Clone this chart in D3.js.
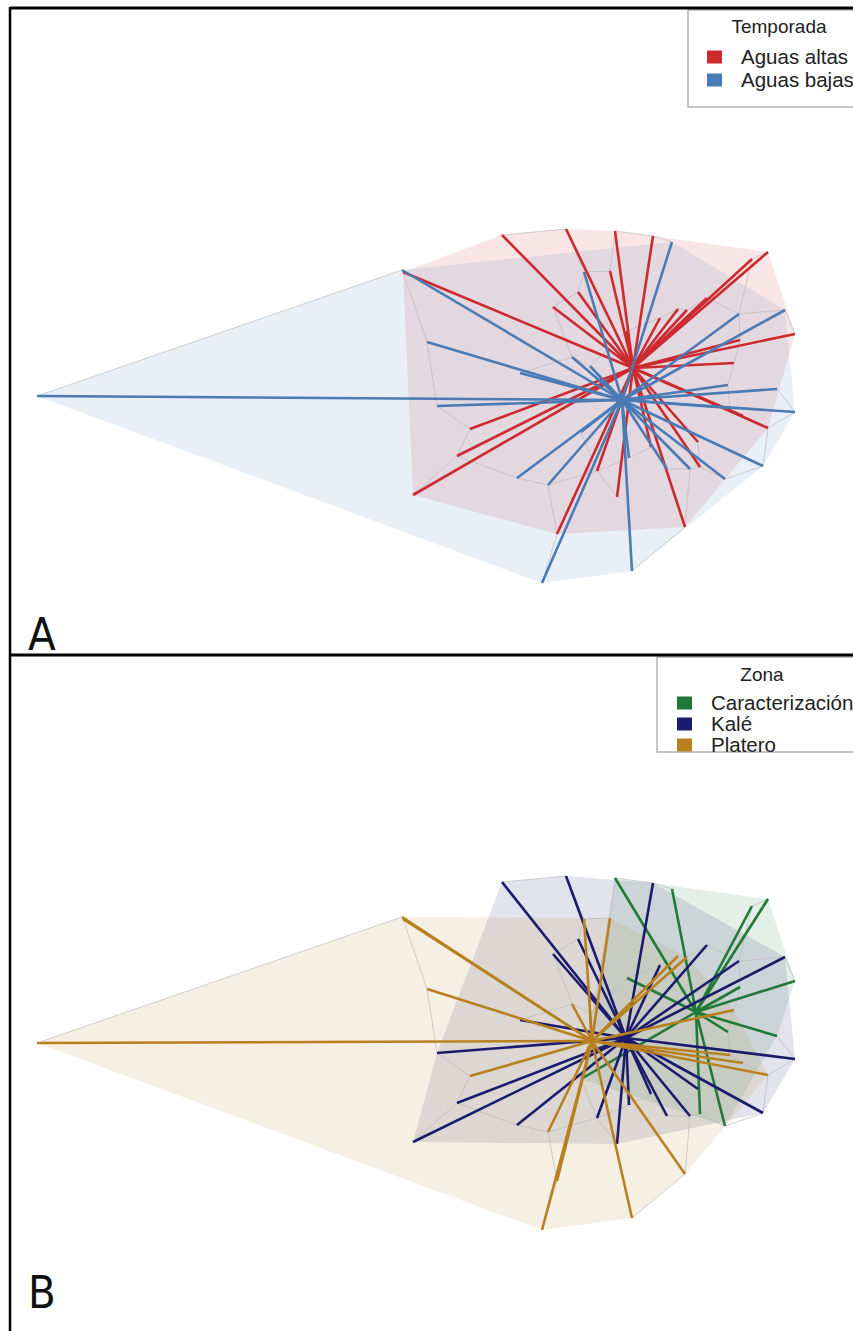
<!DOCTYPE html>
<html>
<head>
<meta charset="utf-8">
<script src="https://cdn.jsdelivr.net/npm/d3@7"></script>
<style>
  body { margin: 0; background: #fff; }
  svg { display: block; }
</style>
</head>
<body>
<script>
// ---- Groupings ----
const seasons = ["Aguas altas", "Aguas bajas"];
const seasonColors = ["#CC2A2E", "#4A7BB5"];
const zones = ["Caracterización", "Kalé", "Platero"];
const zoneColors = ["#1F7A38", "#1B1B6E", "#B8801F"];

// ---- NMDS site scores (one entry per sample) ----
const nmds1 = [
  -0.472, -0.216, -0.020, 0.132, 0.592, 0.528, -0.868, -0.168, -0.040, -0.268,
   0.232,  0.160,  0.268, 0.700, 0.456, -0.600, -0.652, -0.828, -0.252, -0.092,
  -0.012,  0.260,  0.320, 0.592, 0.312,  0.124,  0.028,  0.480,  0.348,  0.492,
  -0.872,  0.208, -0.772, 0.660, 0.476, -0.144, -0.192, -0.120,  0.628,  0.432,
  -0.400, -0.732, -2.332, -0.412, -0.288, -0.312, 0.048, 0.280, 0.420, 0.572,
   0.700,  0.036, -0.156, 0.188, 0.440
];
const nmds2 = [
   0.660,  0.684,  0.676, 0.656, 0.592, 0.564, 0.512, 0.432, 0.516, 0.372,
   0.364,  0.328,  0.360, 0.264, 0.148, -0.116, -0.224, -0.380, -0.536, -0.284,
  -0.388, -0.508, -0.268, -0.112, -0.168, -0.188, 0.276, 0.240, 0.408, -0.064,
   0.520,  0.632,  0.232, 0.360, 0.344, 0.512, 0.172, 0.136, 0.044, 0.060,
   0.108, -0.024,  0.016, -0.312, -0.340, -0.732, -0.684, -0.276, -0.316, -0.264,
  -0.048, -0.232, -0.128, -0.276, -0.032
];
// season of each sample: 0 = Aguas altas, 1 = Aguas bajas
const seasonOf = [
  0,0,0,0,0,0,0,0,0,0, 0,0,0,0,0,0,0,0,0,0, 0,0,0,0,0,0,0,0,0,0,
  1,1,1,1,1,1,1,1,1,1, 1,1,1,1,1,1,1,1,1,1, 1,1,1,1,1
];
// zone of each sample: 0 = Caracterización, 1 = Kalé, 2 = Platero
const zoneOf = [
  1,1,0,1,0,0,2,1,2,1, 2,1,2,0,2,2,1,1,2,1, 1,2,0,2,1,1,0,0,1,2,
  2,0,2,1,1,2,2,2,0,0, 1,1,2,1,2,2,2,1,0,1, 1,1,0,1,2
];

// ---- Group centres (spatial medians) ----
const seasonCentreX = [0.052, 0.008];
const seasonCentreY = [0.128, 0.000];
const zoneCentreX = [0.304, 0.024, -0.112];
const zoneCentreY = [0.140, 0.036, 0.024];

// ---- Canvas ----
const W = 853, H = 1331;
const svg = d3.select("body").append("svg")
  .attr("width", W).attr("height", H)
  .attr("viewBox", `0 0 ${W} ${H}`);

const x = d3.scaleLinear().domain([-2.4, 0.9]).range([20, 845]);
const yA = d3.scaleLinear().domain([-0.9, 1]).range([625, 150]);
const yB = d3.scaleLinear().domain([-0.9, 1]).range([1272, 797]);

// minimum spanning tree over the site scores (Prim)
function mst(pts) {
  const n = pts.length, inTree = new Array(n).fill(false);
  const dist = new Array(n).fill(Infinity), parent = new Array(n).fill(-1);
  dist[0] = 0; const edges = [];
  for (let k = 0; k < n; k++) {
    let u = -1;
    for (let i = 0; i < n; i++) if (!inTree[i] && (u < 0 || dist[i] < dist[u])) u = i;
    inTree[u] = true;
    if (parent[u] >= 0) edges.push([parent[u], u]);
    for (let v = 0; v < n; v++) {
      if (inTree[v]) continue;
      const d = Math.hypot(pts[u][0] - pts[v][0], pts[u][1] - pts[v][1]);
      if (d < dist[v]) { dist[v] = d; parent[v] = u; }
    }
  }
  return edges;
}

function panel(y, groupOf, colors, cx, cy) {
  const g = svg.append("g");
  const pts = nmds1.map((v, i) => [x(v), y(nmds2[i]), groupOf[i]]);

  // convex hulls per group
  colors.forEach((c, k) => {
    const hull = d3.polygonHull(pts.filter(p => p[2] === k).map(p => [p[0], p[1]]));
    if (hull) g.append("path")
      .attr("d", "M" + hull.join("L") + "Z")
      .attr("fill", c).attr("fill-opacity", 0.12).attr("stroke", "none");
  });

  // spanning tree links
  g.append("g").selectAll("line").data(mst(pts)).join("line")
    .attr("x1", e => pts[e[0]][0]).attr("y1", e => pts[e[0]][1])
    .attr("x2", e => pts[e[1]][0]).attr("y2", e => pts[e[1]][1])
    .attr("stroke", "#b9b9b9").attr("stroke-width", 0.9).attr("stroke-opacity", 0.75);

  // spiders from group centre to each sample
  colors.forEach((c, k) => {
    g.append("g").selectAll("line").data(pts.filter(p => p[2] === k)).join("line")
      .attr("x1", x(cx[k])).attr("y1", y(cy[k]))
      .attr("x2", p => p[0]).attr("y2", p => p[1])
      .attr("stroke", c).attr("stroke-width", 2.6).attr("stroke-linecap", "butt");
  });
}

panel(yA, seasonOf, seasonColors, seasonCentreX, seasonCentreY);
panel(yB, zoneOf, zoneColors, zoneCentreX, zoneCentreY);

// ---- Legends ----
function legend(bx, by, bw, bh, title, titleX, titleY, labels, colors, keyX, rowY) {
  const g = svg.append("g").attr("font-family", "'Liberation Sans', Arial, sans-serif");
  g.append("rect").attr("x", bx).attr("y", by).attr("width", bw).attr("height", bh)
    .attr("fill", "#fff").attr("stroke", "#a0a0a0").attr("stroke-width", 1.2);
  g.append("text").attr("x", titleX).attr("y", titleY).attr("text-anchor", "middle")
    .attr("font-size", 19).attr("fill", "#222").text(title);
  labels.forEach((l, i) => {
    g.append("rect").attr("x", keyX).attr("y", rowY[i] - 6.5).attr("width", 15).attr("height", 13)
      .attr("fill", colors[i]);
    g.append("text").attr("x", keyX + 34).attr("y", rowY[i] + 7).attr("font-size", 20.5)
      .attr("fill", "#222").text(l);
  });
}
legend(688, 10, 200, 97, "Temporada", 779, 33, seasons, seasonColors, 707, [57, 80]);
legend(657, 657, 220, 95, "Zona", 762, 681, zones, zoneColors, 677, [703, 724, 745]);

// ---- Panel frames and tags ----
const frame = svg.append("g").attr("fill", "none").attr("stroke", "#000");
frame.append("path").attr("d", `M10,8H${W}`).attr("stroke-width", 3);
frame.append("path").attr("d", `M10,655H${W}`).attr("stroke-width", 3);
frame.append("path").attr("d", `M10,7V${H}`).attr("stroke-width", 2.5);

svg.append("g").attr("font-family", "'Liberation Sans Narrow', 'DejaVu Sans Condensed', sans-serif")
  .attr("font-size", 45).attr("fill", "#111")
  .selectAll("text").data([["A", 650], ["B", 1308]]).join("text")
  .attr("x", 28).attr("y", d => d[1]).text(d => d[0]);
</script>
</body>
</html>
